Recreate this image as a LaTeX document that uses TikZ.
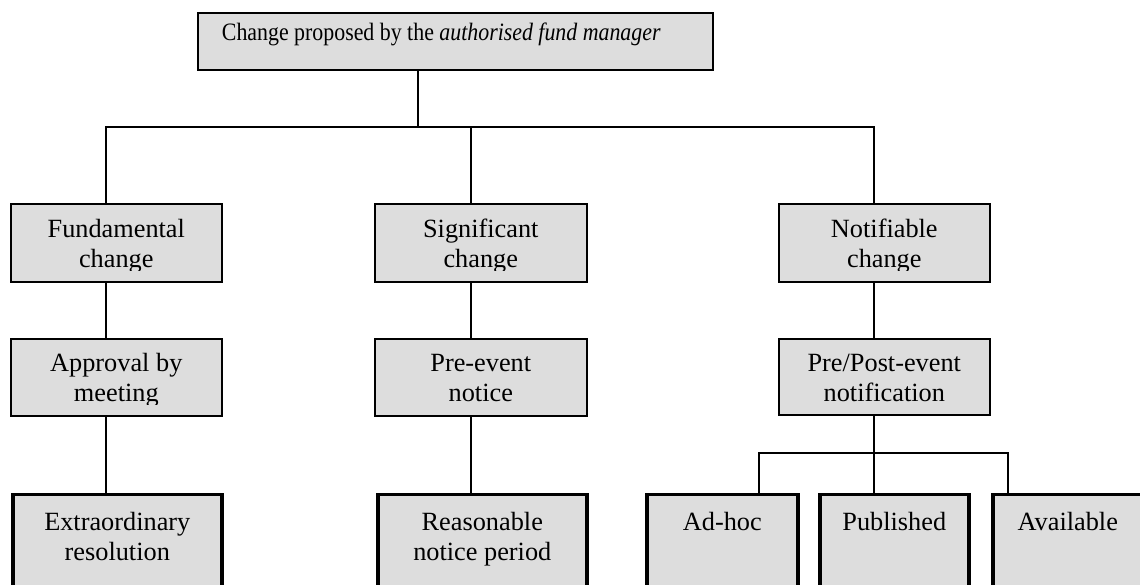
\documentclass[tikz,border=0pt]{standalone}
\usepackage{graphicx}
\usepackage{fontspec}
\setmainfont{Liberation Serif}
\definecolor{boxgray}{RGB}{221,221,221}
\tikzset{
  txt/.style={font=\fontsize{26.3}{30}\selectfont, align=center, anchor=base, inner sep=0pt},
  box/.style 2 args={draw=black, fill=boxgray, line width=1.6pt, anchor=north west,
    inner sep=0pt, minimum width=#1, minimum height=#2},
  thickbox/.style 2 args={box={#1}{#2}, line width=3.6pt},
  lab/.style 2 args={path picture={
      \clip ([yshift=11pt]path picture bounding box.south west) rectangle (path picture bounding box.north east);
      \node[txt] at ([yshift=-#1]path picture bounding box.north) {#2};}},
  conn/.style={draw=black, line width=1.4pt},
}
\begin{document}
\begin{tikzpicture}[x=1pt, y=-1pt]
\clip (0,0) rectangle (1140,585);
\fill[white] (0,0) rectangle (1140,585);
% boxes (lab = baseline of the last text line below the box top)
\node[box={515pt}{57pt}, lab={28pt}{\scalebox{0.875}[1]{\fontsize{25}{28}\selectfont Change proposed by the \textit{authorised fund manager}}\hspace*{28pt}}] (top) at (197,12) {};
\node[box={211pt}{78pt}, lab={64pt}{Fundamental\\change}] (f1) at (10,203) {};
\node[box={212pt}{78pt}, lab={64pt}{Significant\\change}] (s1) at (374,203) {};
\node[box={211pt}{78pt}, lab={64pt}{Notifiable\\change}] (n1) at (778,203) {};
\node[box={211pt}{77pt}, lab={63pt}{Approval by\\meeting}] (f2) at (10,338) {};
\node[box={212pt}{77pt}, lab={63pt}{Pre-event\\notice}] (s2) at (374,338) {};
\node[box={211pt}{76pt}, lab={63pt}{Pre/Post-event\\notification}] (n2) at (778,338) {};
\node[thickbox={209pt}{120pt}, lab={66pt}{Extraordinary\\resolution}] (f3) at (11,492.5) {};
\node[thickbox={209pt}{120pt}, lab={66pt}{Reasonable\\notice period}] (s3) at (376,492.5) {};
\node[thickbox={151pt}{120pt}, lab={36pt}{Ad-hoc}] (a3) at (645,492.5) {};
\node[thickbox={149pt}{120pt}, lab={36pt}{Published}] (p3) at (818,492.5) {};
\node[thickbox={150pt}{120pt}, lab={36pt}{Available}] (v3) at (991,492.5) {};
% connector guide coordinates
\coordinate (cT) at (418,0);
\coordinate (cF) at (106,0);
\coordinate (cS) at (471,0);
\coordinate (cN) at (874,0);
\coordinate (cA) at (759,0);
\coordinate (cV) at (1008,0);
\coordinate (bus) at (0,127);
\coordinate (branch) at (0,453);
% connectors
\draw[conn] (cT |- top.south) -- (cT |- bus);
\draw[conn] (cF |- f1.north) -- (cF |- bus) -- (cN |- bus) -- (cN |- n1.north);
\draw[conn] (cS |- bus) -- (cS |- s1.north);
\draw[conn] (cF |- f1.south) -- (cF |- f2.north);
\draw[conn] (cS |- s1.south) -- (cS |- s2.north);
\draw[conn] (cN |- n1.south) -- (cN |- n2.north);
\draw[conn] (cF |- f2.south) -- (cF |- f3.north);
\draw[conn] (cS |- s2.south) -- (cS |- s3.north);
\draw[conn] (cN |- n2.south) -- (cN |- p3.north);
\draw[conn] (cA |- a3.north) -- (cA |- branch) -- (cV |- branch) -- (cV |- v3.north);
\end{tikzpicture}
\end{document}
